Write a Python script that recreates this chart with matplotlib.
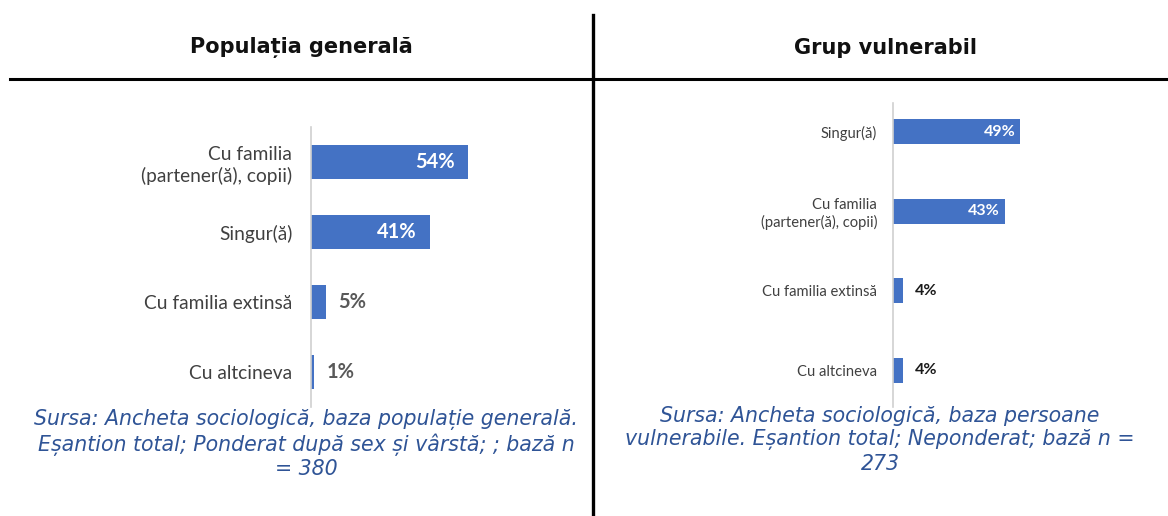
import matplotlib.pyplot as plt
from matplotlib.lines import Line2D

# Left panel: general population
gen_labels = ['Cu familia\n(partener(ă), copii)', 'Singur(ă)', 'Cu familia extinsă', 'Cu altcineva']
gen_values = [54, 41, 5, 1]

# Right panel: vulnerable group
vul_labels = ['Singur(ă)', 'Cu familia\n(partener(ă), copii)', 'Cu familia extinsă', 'Cu altcineva']
vul_values = [49, 43, 4, 4]

titles = ['Populația generală', 'Grup vulnerabil']
sources = [
    'Sursa: Ancheta sociologică, baza populație generală.\n'
    'Eșantion total; Ponderat după sex și vârstă; ; bază n\n= 380',
    'Sursa: Ancheta sociologică, baza persoane\n'
    'vulnerabile. Eșantion total; Neponderat; bază n =\n273',
]

BAR = '#4472C4'
SRC = '#2F5496'
W, H = 1168, 516

fig = plt.figure(figsize=(W / 100, H / 100), dpi=100)
fig.patch.set_facecolor('white')


def fx(px):
    return px / W


def fy(py):
    return 1 - py / H


def panel(rect, labels, values, ylim, bar_h, lab_fs, lab_pad, val_fs, out_color, inside_pad):
    ax = fig.add_axes(rect)
    pos = list(range(len(values)))
    ax.barh(pos, values, height=bar_h, color=BAR)
    ax.set_xlim(0, 100)
    ax.set_ylim(*ylim)
    ax.set_yticks(pos)
    ax.set_yticklabels(labels, fontsize=lab_fs, color='#404040',
                       family=['Lato', 'DejaVu Sans'], linespacing=1.25)
    ax.tick_params(axis='y', length=0, pad=lab_pad)
    ax.set_xticks([])
    for s in ['top', 'right', 'bottom']:
        ax.spines[s].set_visible(False)
    ax.spines['left'].set_color('#d0d0d0')
    ax.spines['left'].set_linewidth(1.2)
    ax.set_facecolor('none')
    for p, v in zip(pos, values):
        if v > 20:
            ax.text(v - inside_pad, p, f'{v}%', ha='right', va='center', color='white',
                    fontsize=val_fs, fontweight='bold', family=['Lato', 'DejaVu Sans'])
        else:
            ax.text(v + 4.5, p, f'{v}%', ha='left', va='center', color=out_color,
                    fontsize=val_fs, fontweight='bold', family=['Lato', 'DejaVu Sans'])
    return ax


# left chart: axis at x=311, 2.905 px per %, y 127..407
panel([fx(311), fy(407), fx(290.5), (407 - 127) / H], gen_labels, gen_values,
      (3.5, -0.5), 0.49, 13.8, 13.5, 14.5, '#595959', 4.5)

# right chart: axis at x=893, 2.6 px per %, y 103..407
panel([fx(893), fy(407), fx(260), (407 - 103) / H], vul_labels, vul_values,
      (3.46, -0.36), 0.31, 10.6, 11.5, 11.5, '#1a1a1a', 2)

# headers and separators
fig.text(fx(301), fy(48), titles[0], ha='center', va='center', fontsize=15,
         fontweight='bold', color='#111111')
fig.text(fx(886), fy(48), titles[1], ha='center', va='center', fontsize=15,
         fontweight='bold', color='#111111')
fig.add_artist(Line2D([fx(10), fx(1168)], [fy(79), fy(79)], color='black', lw=2.2))
fig.add_artist(Line2D([fx(593), fx(593)], [fy(15), fy(516)], color='black', lw=2.4))

# sources
fig.text(fx(306), fy(444), sources[0], ha='center', va='center', fontsize=14.8,
         style='italic', color=SRC, linespacing=1.2)
fig.text(fx(880), fy(440), sources[1], ha='center', va='center', fontsize=14.8,
         style='italic', color=SRC, linespacing=1.2)

fig.savefig('out.png', dpi=100)
